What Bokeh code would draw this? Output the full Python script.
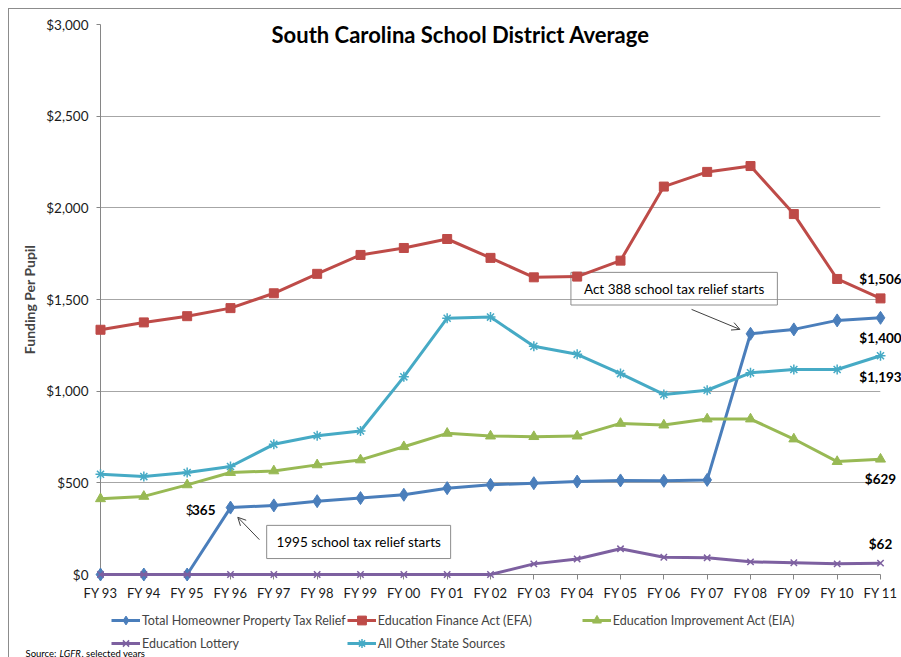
from bokeh.plotting import figure
from bokeh.layouts import column
from bokeh.models import (Range1d, FixedTicker, NumeralTickFormatter, Legend, LegendItem,
                          Label, BoxAnnotation, Arrow, OpenHead, ColumnDataSource)
from bokeh.embed import file_html
from bokeh.resources import INLINE
from bokeh.core.properties import value

# ---------------- data ----------------
years = ["FY 93", "FY 94", "FY 95", "FY 96", "FY 97", "FY 98", "FY 99", "FY 00", "FY 01", "FY 02",
         "FY 03", "FY 04", "FY 05", "FY 06", "FY 07", "FY 08", "FY 09", "FY 10", "FY 11"]
homeowner = [0, 0, 0, 365, 377, 400, 417, 435, 471, 489, 498, 507, 513, 511, 516, 1313, 1337, 1386, 1400]
efa = [1335, 1375, 1409, 1453, 1534, 1640, 1743, 1781, 1830, 1727, 1621, 1625, 1712, 2116, 2196, 2228, 1966, 1612, 1506]
eia = [413, 426, 489, 556, 565, 598, 625, 697, 770, 755, 752, 755, 824, 815, 848, 848, 739, 616, 629]
lottery = [0, 0, 0, 0, 0, 0, 0, 0, 0, 0, 58, 85, 140, 94, 91, 69, 64, 58, 62]
other = [547, 534, 556, 589, 710, 757, 783, 1078, 1398, 1404, 1245, 1201, 1096, 982, 1005, 1100, 1118, 1118, 1193]
y_ticks = [0, 500, 1000, 1500, 2000, 2500, 3000]

FONT = "Lato"
xs = list(range(len(years)))

p = figure(width=892, height=594, output_backend="svg", toolbar_location=None,
           x_range=Range1d(0, len(years) - 1), y_range=Range1d(0, 3000),
           min_border_left=91, min_border_right=21, min_border_top=15, min_border_bottom=28)
p.outline_line_color = None
p.background_fill_color = "white"

# axes
p.xaxis.ticker = FixedTicker(ticks=xs)
p.xaxis.major_label_overrides = {i: years[i] for i in xs}
p.yaxis.ticker = FixedTicker(ticks=y_ticks)
p.yaxis.formatter = NumeralTickFormatter(format="$0,0")
for ax in (p.xaxis[0], p.yaxis[0]):
    ax.axis_line_color = "#868686"
    ax.major_tick_line_color = "#868686"
    ax.minor_tick_line_color = None
    ax.major_tick_in = 0
    ax.major_label_text_font = FONT
    ax.major_label_text_color = "#1a1a1a"
p.xaxis.major_tick_out = 5
p.xaxis.major_label_standoff = 5
p.xaxis.major_label_text_font_size = "13px"
p.yaxis.major_tick_out = 4
p.yaxis.major_label_standoff = 8
p.yaxis.major_label_text_font_size = "13.5px"
p.yaxis.axis_label = "Funding Per Pupil"
p.yaxis.axis_label_text_font = FONT
p.yaxis.axis_label_text_font_style = "bold"
p.yaxis.axis_label_text_font_size = "14px"
p.yaxis.axis_label_standoff = 5
p.xgrid.grid_line_color = None
p.ygrid.grid_line_color = "#a6a6a6"

series = [
    ("Total Homeowner Property Tax Relief", homeowner, "#4a7ebb", "diamond", 13, 20),
    ("Education Finance Act (EFA)", efa, "#be4b48", "square", 9, -19),
    ("Education Improvement Act (EIA)", eia, "#98b954", "triangle", 10, 20),
    ("Education Lottery", lottery, "#7d60a0", "x", 9, -19),
    ("All Other State Sources", other, "#46aac5", "asterisk", 10, 21),
]

# legend strip below the chart (a second, axis-less figure whose y range lies above all data,
# so its copies of the series stay hidden and only feed the legend glyphs)
Y0 = 5000
p2 = figure(width=892, height=54, output_backend="svg", toolbar_location=None,
            x_range=Range1d(0, 780), y_range=Range1d(Y0, Y0 + 54), x_axis_type=None, y_axis_type=None,
            min_border_left=91, min_border_right=21, min_border_top=0, min_border_bottom=0)
p2.outline_line_color = None

items = []
for name, vals, color, marker, size, off in series:
    src = ColumnDataSource(dict(x=xs, y=vals))
    p.line("x", "y", source=src, line_color=color, line_width=3, level="overlay")
    mw = 1.5 if marker in ("x", "asterisk") else 1
    p.scatter("x", "y", source=src, marker=marker, size=size, fill_color=color,
              line_color=color, line_width=mw, level="overlay")
    lsrc = ColumnDataSource(dict(x=[xs[-1]], y=[vals[-1]], t=["${:,}".format(vals[-1])]))
    p.text("x", "y", text="t", source=lsrc, text_font=value(FONT), text_font_style="bold",
           text_font_size="13.5px", text_align="center", text_baseline="middle", y_offset=off,
           text_color="#000000", level="overlay")
    lr2 = p2.line("x", "y", source=src, line_color=color, line_width=3)
    mk2 = p2.scatter("x", "y", source=src, marker=marker, size=size, fill_color=color,
                     line_color=color, line_width=mw)
    items.append(LegendItem(label=name, renderers=[lr2, mk2]))

# $365 label at FY 96
i96 = years.index("FY 96")
s365 = ColumnDataSource(dict(x=[xs[i96]], y=[homeowner[i96]], t=[str(homeowner[i96])]))
p.text("x", "y", text="t", source=s365, text_font=value(FONT), text_font_style="bold",
       text_font_size="13.5px", text_align="right", text_baseline="middle", x_offset=-15, y_offset=2,
       level="overlay")
p.text("x", "y", text=value("$"), source=s365, text_font=value(FONT),
       text_font_size="13.5px", text_align="right", text_baseline="middle", x_offset=-37, y_offset=2,
       level="overlay")

# title inside plot area
p.add_layout(Label(x=8.31, y=2946, text="South Carolina School District Average", text_font=FONT,
                   text_font_style="bold", text_font_size="22px", text_align="center",
                   text_baseline="middle", text_color="#000000"))

# annotation boxes and arrows
p.add_layout(BoxAnnotation(left=3.835, right=8.08, bottom=87, top=268, fill_color=None,
                           line_color="#8c8c8c", line_width=1, line_alpha=1))
p.add_layout(Label(x=5.96, y=180, text="1995 school tax relief starts", text_font=FONT,
                   text_font_size="13.5px", text_align="center", text_baseline="middle",
                   text_color="#000000"))
p.add_layout(Arrow(x_start=3.667, y_start=190, x_end=3.168, y_end=312, line_color="#404040",
                   line_width=1, end=OpenHead(size=8, line_color="#404040", line_width=1)))

p.add_layout(BoxAnnotation(left=10.856, right=15.62, bottom=1470, top=1648, fill_color=None,
                           line_color="#8c8c8c", line_width=1, line_alpha=1))
p.add_layout(Label(x=13.24, y=1557, text="Act 388 school tax relief starts", text_font=FONT,
                   text_font_size="13.5px", text_align="center", text_baseline="middle",
                   text_color="#000000"))
p.add_layout(Arrow(x_start=13.64, y_start=1446, x_end=14.756, y_end=1337, line_color="#404040",
                   line_width=1, end=OpenHead(size=8, line_color="#404040", line_width=1)))

legend = Legend(items=items, ncols=3, orientation="horizontal", location=(11, 3), margin=0,
                padding=0, label_text_font=FONT, label_text_font_size="12.5px", glyph_width=29,
                glyph_height=22, label_height=22, label_width=203, label_standoff=2, spacing=1,
                border_line_color=None, background_fill_alpha=0)
p2.add_layout(legend)

# source note
src_note = ColumnDataSource(dict(x=[-75], y=[Y0 + 10]))
for txt, dx, style in (("Source: ", 0, "normal"), ("LGFR", 34, "italic"), (", selected years", 56, "normal")):
    p2.text("x", "y", text=value(txt), source=src_note, text_font=value(FONT), text_font_size="9.5px",
            text_font_style=style, text_baseline="top", x_offset=dx, text_color="#000000", level="overlay")

layout = column(p, p2)
layout.styles = {"margin-left": "8px", "margin-top": "8px",
                 "border-left": "1px solid #8c8c8c", "border-top": "1px solid #8c8c8c"}

open("out.html", "w").write(file_html(layout, INLINE))
